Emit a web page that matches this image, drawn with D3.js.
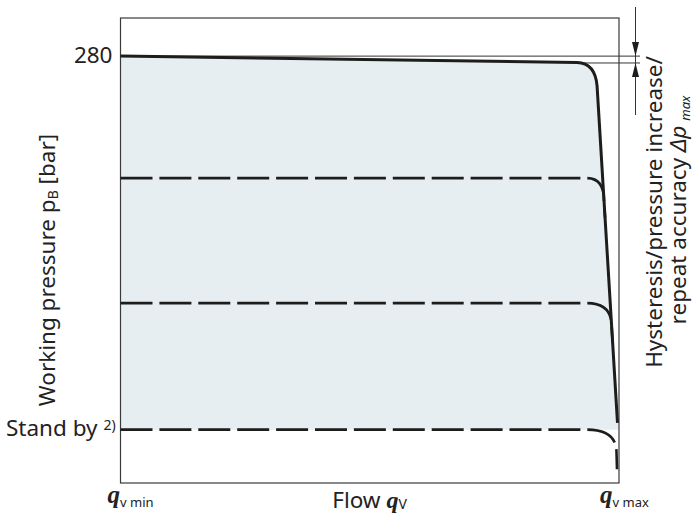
<!DOCTYPE html>
<html><head><meta charset="utf-8">
<script src="https://cdn.jsdelivr.net/npm/d3@7"></script>
<style>body{margin:0;background:#fff}</style>
</head><body>
<svg id="c" width="694" height="515"></svg>
<script>
// ---- data (schematic) ----
const flowDomain = [0, 100];            // % between q_v min and q_v max
const pressureDomain = [0, 305];        // bar
const maxPressure = 280;                // upper setting
const hysteresisLow = 275.5;            // lower edge of Δp max band
const plateauFlow = [0, 91.6];
const plateauPressure = [280, 275.8];
const cornerPoint = [95.2, 275.4];
const steepFlow = [95.6, 99.7];
const steepPressure = [260.5, 39.4];
const dashedLevels = [200, 118, 35];    // intermediate settings + stand by
const standbyPressure = 35;
const dashBendFlow = 93.6;
const yTickLabels = ["280"];
const xTickLabels = [{q: "q", sub: "v min", flow: 0}, {q: "q", sub: "v max", flow: 100}];

// ---- chart ----
const svg = d3.select("#c");
const x = d3.scaleLinear().domain(flowDomain).range([120.5, 619]);
const y = d3.scaleLinear().domain(pressureDomain).range([483, 18]);
const ink = "#1d1d1b";

function steepAt(p) {
  const t = (steepPressure[0] - p) / (steepPressure[0] - steepPressure[1]);
  return steepFlow[0] + t * (steepFlow[1] - steepFlow[0]);
}

function solidPath(ctx) {
  ctx.moveTo(x(plateauFlow[0]), y(plateauPressure[0]));
  ctx.lineTo(x(plateauFlow[1]), y(plateauPressure[1]));
  ctx.quadraticCurveTo(x(cornerPoint[0]), y(cornerPoint[1]), x(steepFlow[0]), y(steepPressure[0]));
  ctx.lineTo(x(steepFlow[1]), y(steepPressure[1]));
  return ctx;
}

// fill area
const fp = solidPath(d3.path());
fp.lineTo(x(flowDomain[1]), y(steepPressure[1]));
fp.lineTo(x(flowDomain[1]), y(standbyPressure));
fp.lineTo(x(flowDomain[0]), y(standbyPressure));
fp.closePath();
svg.append("path").attr("d", fp.toString()).attr("fill", "#e7eef2");

// frame
svg.append("rect").attr("x", x(0)).attr("y", y(pressureDomain[1]))
  .attr("width", x(100) - x(0)).attr("height", y(0) - y(pressureDomain[1]))
  .attr("fill", "none").attr("stroke", "#3a3a3a").attr("stroke-width", 1.2);

// hysteresis band lines
svg.append("line").attr("x1", x(0)).attr("x2", 640).attr("y1", y(maxPressure)).attr("y2", y(maxPressure))
  .attr("stroke", "#333").attr("stroke-width", 1);
svg.append("line").attr("x1", x(plateauFlow[1])).attr("x2", 640).attr("y1", y(hysteresisLow)).attr("y2", y(hysteresisLow))
  .attr("stroke", "#333").attr("stroke-width", 1);
const ax = 635.5;
svg.append("line").attr("x1", ax).attr("x2", ax).attr("y1", 7).attr("y2", 115)
  .attr("stroke", "#333").attr("stroke-width", 1);
svg.append("path").attr("d", `M${ax - 3.5},${y(maxPressure) - 14}L${ax + 3.5},${y(maxPressure) - 14}L${ax},${y(maxPressure)}Z`).attr("fill", ink);
svg.append("path").attr("d", `M${ax - 3.5},${y(hysteresisLow) + 14}L${ax + 3.5},${y(hysteresisLow) + 14}L${ax},${y(hysteresisLow)}Z`).attr("fill", ink);

// dashed characteristics
dashedLevels.forEach(p => {
  const pe = p - 15;
  const fe = Math.min(steepAt(pe), 99.5);
  const pe2 = p - 26;
  const fe2 = Math.min(steepAt(pe2), 99.6);
  const d = d3.path();
  d.moveTo(x(0), y(p));
  d.lineTo(x(dashBendFlow), y(p));
  d.quadraticCurveTo(x(fe), y(p), x(fe), y(pe));
  d.lineTo(x(fe2), y(pe2));
  svg.append("path").attr("d", d.toString()).attr("fill", "none")
    .attr("stroke", ink).attr("stroke-width", 2.6).attr("stroke-dasharray", "32,6.9");
});

// solid characteristic
svg.append("path").attr("d", solidPath(d3.path()).toString()).attr("fill", "none")
  .attr("stroke", ink).attr("stroke-width", 3).attr("stroke-linejoin", "round");

// ---- text ----
const font = "'Noto Sans', sans-serif";
const serif = "'Liberation Serif', 'DejaVu Serif', serif";
const tc = "#222";
const fs = 22.5;

svg.append("text").attr("x", 112.5).attr("y", y(maxPressure) + 7).attr("text-anchor", "end")
  .attr("font-family", font).attr("font-size", fs).attr("fill", tc).text(yTickLabels[0]);

const sb = svg.append("text").attr("x", 6).attr("y", y(standbyPressure) + 6.5)
  .attr("font-family", font).attr("font-size", fs).attr("fill", tc);
sb.append("tspan").text("Stand by ");
sb.append("tspan").attr("font-size", 14).attr("dy", -6).text("2)");

const yl = svg.append("text").attr("transform", "translate(55,270) rotate(-90)").attr("text-anchor", "middle")
  .attr("font-family", font).attr("font-size", fs).attr("fill", tc);
yl.append("tspan").text("Working pressure p");
yl.append("tspan").attr("font-size", 14).attr("dy", 3).text("B");
yl.append("tspan").attr("dy", -3).text(" [bar]");

// bottom labels
xTickLabels.forEach(t => {
  const tx = svg.append("text").attr("x", x(t.flow) - (t.flow === 0 ? 13 : 19)).attr("y", 503).attr("fill", tc);
  tx.append("tspan").attr("font-family", serif).attr("font-style", "italic").attr("font-weight", "bold")
    .attr("font-size", 25).text(t.q);
  tx.append("tspan").attr("font-family", font).attr("font-size", 13).attr("dy", 4).text(t.sub);
});
const fl = svg.append("text").attr("x", 369.5).attr("y", 508).attr("text-anchor", "middle").attr("fill", tc);
fl.append("tspan").attr("font-family", font).attr("font-size", fs).text("Flow ");
fl.append("tspan").attr("font-family", serif).attr("font-style", "italic").attr("font-weight", "bold")
  .attr("font-size", 24).text("q");
fl.append("tspan").attr("font-family", font).attr("font-size", 14).attr("dy", 1).text("V");

// right label
const rl = svg.append("text").attr("transform", "translate(661.5,212) rotate(-90)").attr("text-anchor", "middle")
  .attr("font-family", font).attr("font-size", fs).attr("fill", tc);
rl.append("tspan").text("Hysteresis/pressure increase/");
const l2 = svg.append("text").attr("transform", "translate(685.5,210) rotate(-90)").attr("text-anchor", "middle")
  .attr("font-family", font).attr("font-size", fs).attr("fill", tc);
l2.append("tspan").text("repeat accuracy ");
l2.append("tspan").attr("font-style", "italic").text("Δp");
l2.append("tspan").attr("font-style", "italic").attr("font-size", 13).attr("dx", 5).attr("dy", 4).text("max");
</script>
</body></html>
